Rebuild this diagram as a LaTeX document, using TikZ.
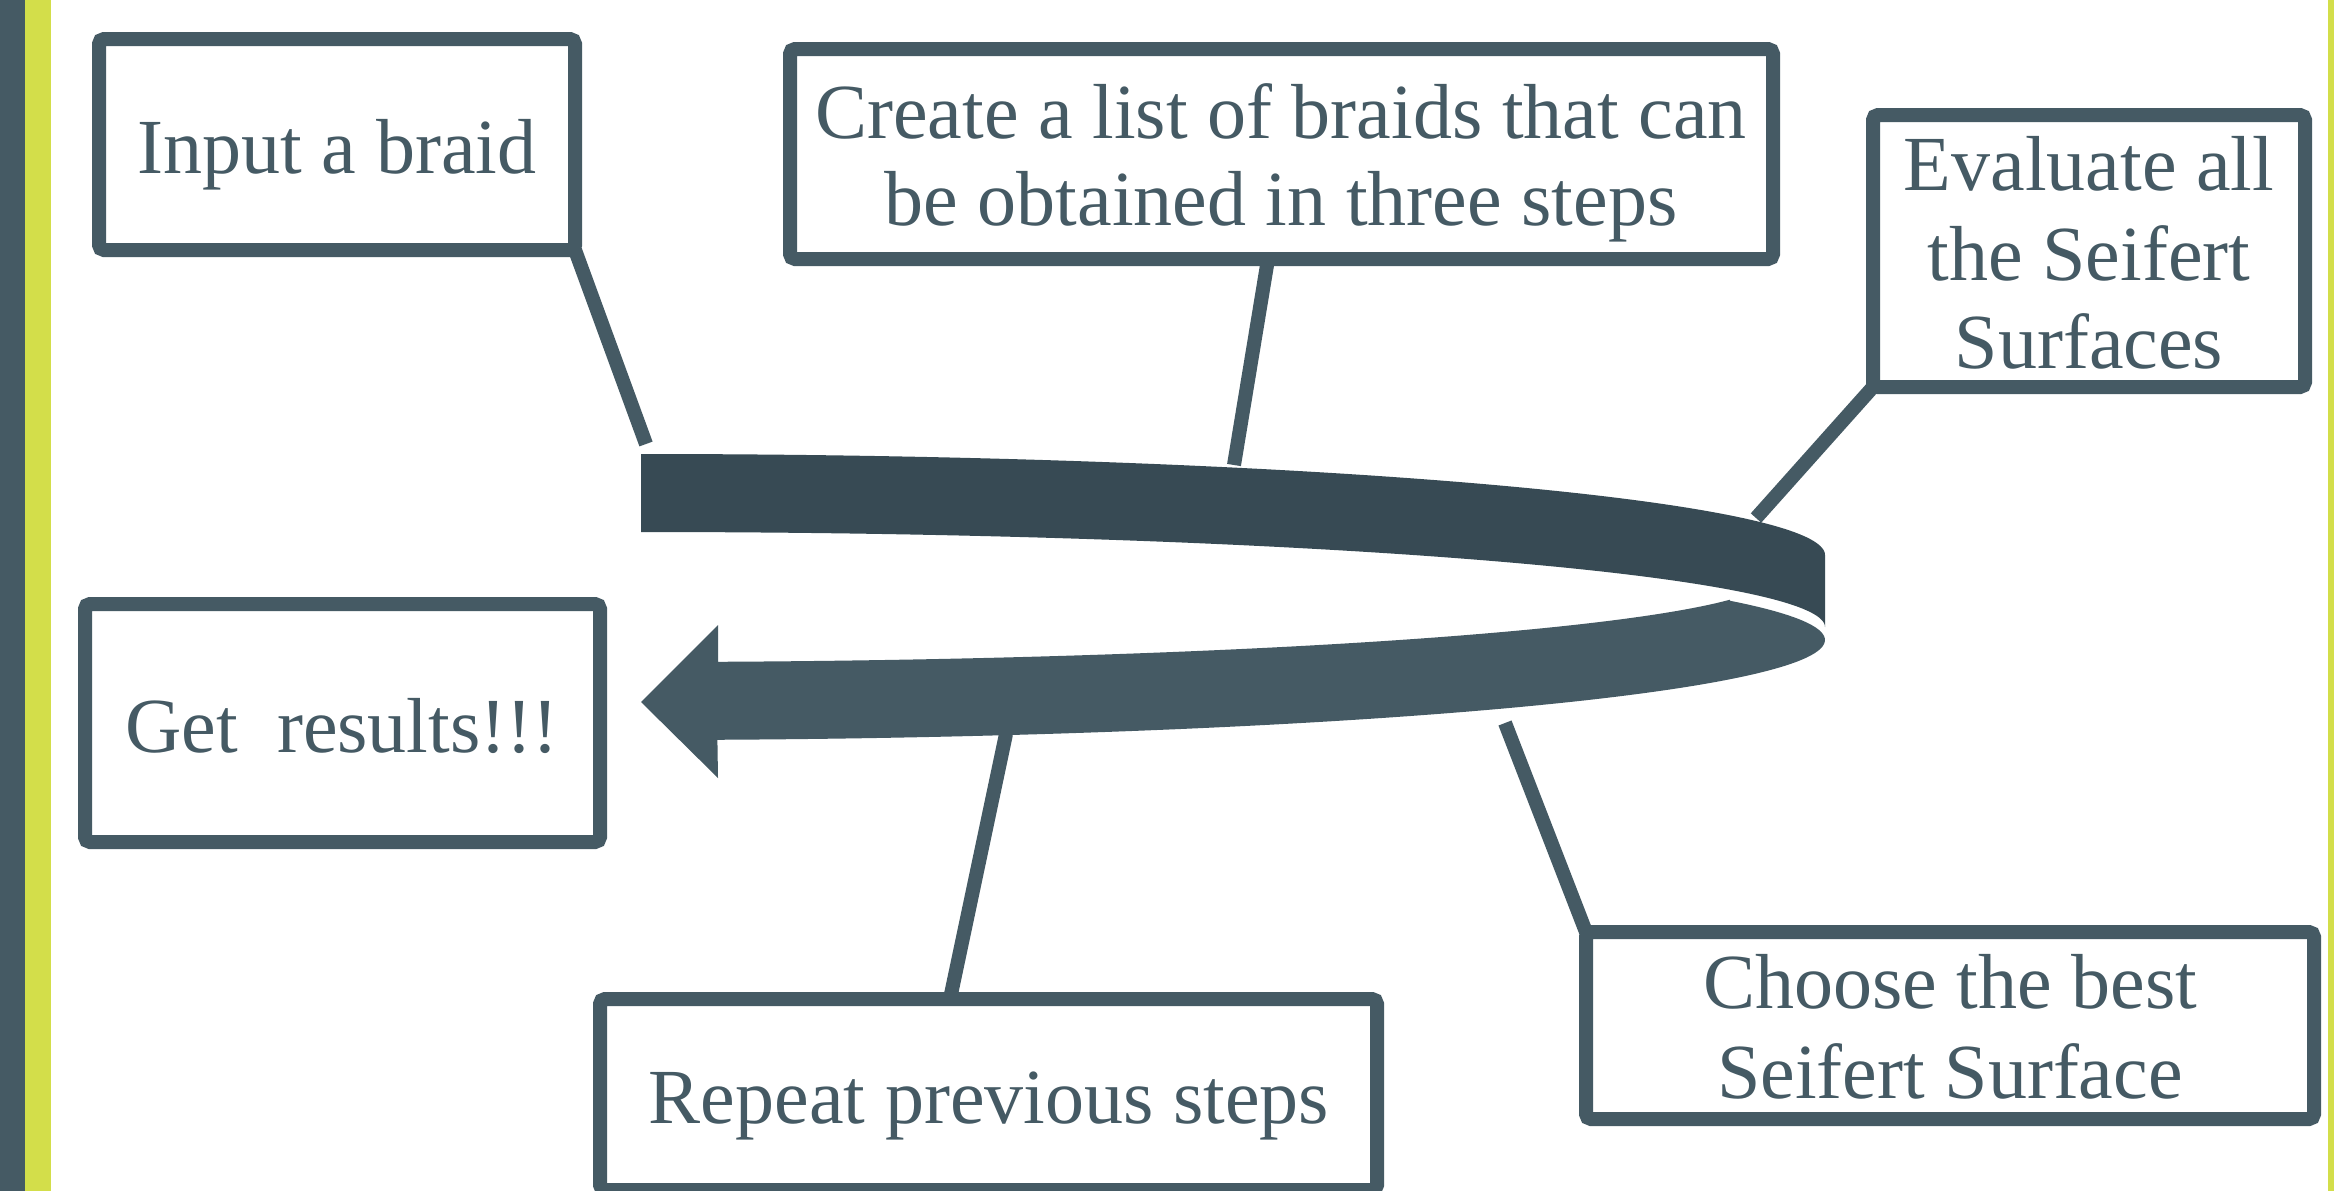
\documentclass[tikz,border=0pt]{standalone}
\usepackage{fontspec}
\setmainfont{Liberation Serif}
\definecolor{slate}{HTML}{455A64}
\definecolor{darkslate}{HTML}{374A54}
\definecolor{lime}{HTML}{D3DE4A}
\begin{document}
\begin{tikzpicture}[x=1pt,y=-1pt,
  box/.style={draw=slate, line width=14pt, rounded corners=5pt, inner sep=0pt, outer sep=0pt, fill=white},
  conn/.style={draw=slate, line width=14pt},
  lbl/.style={text=slate, font=\fontsize{78}{88}\selectfont, anchor=base, inner sep=0pt}]
\useasboundingbox (0,0) rectangle (2334,1191);
\clip (0,0) rectangle (2334,1191);
\fill[white] (0,0) rectangle (2334,1191);
% side bars
\fill[slate] (0,0) rectangle (24.5,1191);
\fill[lime] (24.5,0) rectangle (51,1191);
\fill[lime] (2328,0) rectangle (2334,1191);

% connector end points at the arrow
\coordinate (a-input) at (646,444);
\coordinate (a-create) at (1234,465);
\coordinate (a-eval) at (1756,518);
\coordinate (a-repeat) at (1006,734);
\coordinate (a-choose) at (1505,723);

% boxes
\node[box, minimum width=476pt, minimum height=211pt] (inputbox) at (337,144.5) {};
\node[box, minimum width=983pt, minimum height=210pt] (createbox) at (1281.5,154) {};
\node[box, minimum width=432pt, minimum height=272pt] (evalbox) at (2089,251) {};
\node[box, minimum width=515pt, minimum height=238pt] (getbox) at (342.5,723) {};
\node[box, minimum width=777pt, minimum height=191pt] (repeatbox) at (988.5,1094.5) {};
\node[box, minimum width=728pt, minimum height=187pt] (choosebox) at (1950,1025.5) {};

% connectors
\draw[conn] (inputbox.south east) -- (a-input);
\draw[conn] ([xshift=-13.5pt]createbox.south) -- (a-create);
\draw[conn] (evalbox.south west) -- (a-eval);
\draw[conn] ([xshift=-38.5pt]repeatbox.north) -- (a-repeat);
\draw[conn] (choosebox.north west) -- (a-choose);

% lower band of the circular arrow
\fill[slate] (641,702) -- (718,625) -- (718,662)
  -- plot[domain=86.1:15.5, samples=60] ({641+1130*cos(\x)},{577+85*sin(\x)})
  -- plot[domain=23.1:-86.3, samples=90] ({641+1184*cos(\x)},{640-100*sin(\x)})
  -- (718,778) -- cycle;
% white gap
\draw[white, line width=5pt] plot[domain=0:28, samples=30] ({641+1184*cos(\x)},{627-95*sin(\x)});
% upper band
\fill[darkslate] plot[domain=90:0, samples=90] ({641+1184*cos(\x)},{555-101*sin(\x)})
  -- plot[domain=0:90, samples=90] ({641+1184*cos(\x)},{627-95*sin(\x)}) -- cycle;

% texts
\node[lbl] (t-input) at (337,173) {Input a braid};
\node[lbl] (t-create1) at (1281,138) {Create a list of braids that can};
\node[lbl] (t-create2) at (1281,225) {be obtained in three steps};
\node[lbl] (t-eval1) at (2089,190) {Evaluate all};
\node[lbl] (t-eval2) at (2089,280) {the Seifert};
\node[lbl] (t-eval3) at (2089,368) {Surfaces};
\node[lbl] (t-get) at (342,752) {Get\ \ results!!!};
\node[lbl] (t-repeat) at (989,1123) {Repeat previous steps};
\node[lbl] (t-choose1) at (1950,1008) {Choose the best};
\node[lbl] (t-choose2) at (1950,1098) {Seifert Surface};
\end{tikzpicture}
\end{document}
